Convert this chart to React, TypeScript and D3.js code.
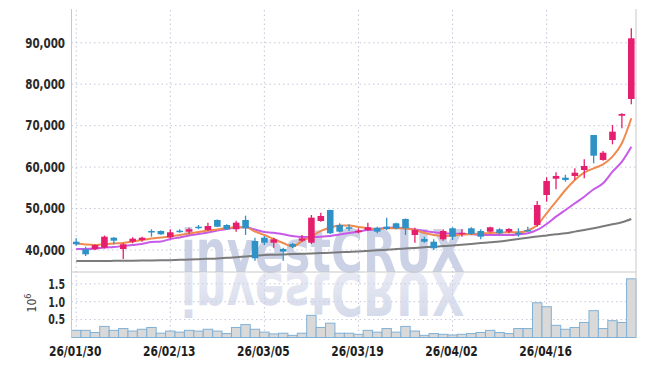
import React from 'react';
import * as d3 from 'd3';

const dates = [
  '26/01/30','26/02/02','26/02/03','26/02/04','26/02/05','26/02/06','26/02/09','26/02/10','26/02/11','26/02/12',
  '26/02/13','26/02/19','26/02/20','26/02/23','26/02/24','26/02/25','26/02/26','26/02/27','26/03/03','26/03/04',
  '26/03/05','26/03/06','26/03/09','26/03/10','26/03/11','26/03/12','26/03/13','26/03/16','26/03/17','26/03/18',
  '26/03/19','26/03/20','26/03/23','26/03/24','26/03/25','26/03/26','26/03/27','26/03/30','26/03/31','26/04/01',
  '26/04/02','26/04/03','26/04/06','26/04/07','26/04/08','26/04/09','26/04/10','26/04/13','26/04/14','26/04/15',
  '26/04/16','26/04/17','26/04/20','26/04/21','26/04/22','26/04/23','26/04/24','26/04/27','26/04/28','26/04/29',
];

const opens = [
  42000,40170,40170,40560,42970,40240,42000,42410,44590,44590,
  43060,44660,44420,45620,44830,47240,46030,45000,47240,42170,
  42970,41760,40240,41450,42250,41760,47000,49650,46030,45480,
  44420,44830,45380,45620,46440,47480,43620,42650,42000,42580,
  45240,43860,45240,44580,44420,45000,44420,44170,44830,46030,
  53270,57200,57450,57860,59300,67750,61720,66540,72400,76440,
];
const highs = [
  42820,40800,41330,43500,43140,41600,43060,43210,45000,44700,
  45000,45000,45380,46030,46590,47360,46200,47070,48280,42970,
  43380,42970,40560,41690,43620,48450,49000,49720,46440,46200,
  45240,46590,45620,47800,46590,47600,45380,43210,42580,45000,
  45480,45000,45480,45000,45620,45240,45240,45240,45620,51820,
  57540,58750,58170,59710,61890,67750,63890,70160,73000,93500,
];
const lows = [
  41040,38550,40000,40360,41380,37830,41620,42000,43210,43700,
  42820,44150,43790,45000,44590,45550,44900,44420,43620,37420,
  41200,40560,37420,40480,42000,41450,46830,43860,44270,44580,
  44030,44580,44030,44830,45000,43620,41760,41760,40000,42250,
  42410,43210,43620,42580,44270,43790,44030,43210,44420,45620,
  51650,54650,56480,56890,57300,60920,61550,65500,69360,75160,
];
const closes = [
  41380,38960,41200,43210,42250,41380,42730,42970,44270,43790,
  44270,44420,45000,45380,45790,45620,45000,46590,45240,38000,
  41760,42580,39600,40800,42820,47800,48200,44030,44420,45240,
  44660,45480,44420,45070,45240,45240,44830,42000,40410,44580,
  43210,44170,43860,43210,45480,44030,45070,44030,44500,50860,
  56650,57860,56890,58650,60270,62750,63480,68550,72820,91080,
];
const volumes = [
  200000,200000,140000,310000,200000,250000,180000,230000,280000,120000,
  180000,150000,200000,180000,230000,180000,110000,280000,360000,230000,
  150000,100000,120000,60000,120000,620000,280000,400000,120000,120000,
  90000,200000,150000,250000,150000,310000,180000,60000,110000,90000,
  70000,90000,110000,140000,200000,140000,110000,250000,250000,970000,
  860000,340000,230000,280000,420000,750000,250000,470000,420000,1640000,
];
const maShort = [
  41570,41330,41200,41450,41570,41690,42050,42410,42770,43020,
  43260,43620,43980,44340,44700,44950,45310,45430,45550,44460,
  43620,42650,41690,40840,42170,43260,44590,45430,45910,45910,
  45550,45310,45070,45240,45240,45190,44830,44100,43620,43380,
  43500,43740,43860,43980,44100,44170,44270,44270,44700,46030,
  48860,51650,54480,56890,58650,59710,60680,62510,65750,71780,
];
const maMid = [
  40240,40240,40360,40600,40720,40970,41200,41450,41930,42050,
  42650,43020,43500,43860,44220,44700,45070,45430,45480,44950,
  44340,44170,43790,43380,43140,43140,43210,43380,43740,44100,
  44460,44830,45000,45380,45430,45240,44950,44590,44270,44030,
  43980,43860,43790,43620,43620,43620,43620,43740,44030,44830,
  46270,48040,49650,51270,52860,54650,56090,58890,61310,64930,
];
const maLong = [
  37350,37350,37350,37350,37380,37400,37420,37450,37470,37500,
  37550,37620,37700,37780,37860,37950,38100,38250,38430,38600,
  38790,38860,38940,39010,39090,39160,39260,39350,39450,39540,
  39640,39780,39930,40070,40220,40360,40500,40650,40800,40940,
  41090,41280,41470,41660,41860,42050,42350,42650,42950,43260,
  43520,43780,44030,44430,44830,45240,45720,46200,46680,47480,
];
const priceTicks = [40000, 50000, 60000, 70000, 80000, 90000];
const volumeTicks = [500000, 1000000, 1500000];
const dateTicks = ['26/01/30', '26/02/13', '26/03/05', '26/03/19', '26/04/02', '26/04/16'];

const W = 645;
const H = 366;
const LEFT = 71.5;
const RIGHT = 636;
const PTOP = 10;
const PBOT = 272;
const VBOT = 337.5;

const UP = '#e51f6e';
const DOWN = '#2f92c7';
const GRID = '#c6c6da';
const FONT = '"DejaVu Sans Condensed", "Liberation Sans Narrow", "Roboto", sans-serif';
const SX = 0.85;

export default function App() {
  const x = d3.scaleBand<string>().domain(dates).range([LEFT, RIGHT]).paddingInner(0).paddingOuter(0);
  const bw = x.bandwidth();
  const cx = (i: number) => (x(dates[i]) as number) + bw / 2;
  const y = d3.scaleLinear().domain([34690, 97910]).range([PBOT, PTOP]);
  const yv = d3.scaleLinear().domain([0, 1830000]).range([VBOT, PBOT]);

  const lineGen = (vals: number[]) =>
    d3.line<number>().x((_, i) => cx(i)).y((v) => y(v)).curve(d3.curveMonotoneX)(vals) || '';

  const bodyW = bw * 0.7;
  const fmt = d3.format(',');

  return (
    <svg width={W} height={H} style={{ position: 'absolute', left: 0, top: 0, background: '#fff' }}>
      <defs>
        <linearGradient id="reflect" x1="0" y1="0" x2="0" y2="1">
          <stop offset="0" stopColor="#ccd2e6" stopOpacity={0.9} />
          <stop offset="1" stopColor="#ccd2e6" stopOpacity={0.35} />
        </linearGradient>
        <clipPath id="plotClip">
          <rect x={LEFT} y={PTOP} width={RIGHT - LEFT} height={PBOT - PTOP} />
        </clipPath>
        <clipPath id="reflClip">
          <rect x={LEFT} y={PBOT + 1} width={RIGHT - LEFT} height={VBOT - PBOT} />
        </clipPath>
      </defs>

      {/* horizontal grid */}
      {priceTicks.map((t) => (
        <line key={'pg' + t} x1={LEFT} x2={RIGHT} y1={y(t)} y2={y(t)} stroke={GRID} strokeWidth={1} strokeDasharray="1.5,3" />
      ))}
      {volumeTicks.map((t) => (
        <line key={'vg' + t} x1={LEFT} x2={RIGHT} y1={yv(t)} y2={yv(t)} stroke={GRID} strokeWidth={1} strokeDasharray="1.5,3" />
      ))}
      {/* vertical grid */}
      {dateTicks.map((d) => (
        <line key={'dg' + d} x1={(x(d) as number) + bw / 2} x2={(x(d) as number) + bw / 2} y1={PTOP} y2={VBOT} stroke={GRID} strokeWidth={1} strokeDasharray="1.5,3" />
      ))}

      {/* watermark */}
      <text x={181} y={PBOT} fontFamily={FONT} fontWeight="bold" fontSize={58} fill="#ccd2e6" textLength={284} lengthAdjust="spacingAndGlyphs">investCRUX</text>
      <g clipPath="url(#reflClip)">
        <g transform={`translate(0,${2 * PBOT + 1}) scale(1,-1)`}>
          <path d="" />
          <text x={181} y={PBOT} fontFamily={FONT} fontWeight="bold" fontSize={58} fill="url(#reflect)" textLength={284} lengthAdjust="spacingAndGlyphs">investCRUX</text>
        </g>
      </g>

      {/* volume bars */}
      {volumes.map((v, i) => (
        <rect key={'v' + i} x={(x(dates[i]) as number)} y={yv(v)} width={bw} height={VBOT - yv(v)} fill="#d9d9d9" stroke="#80b1d6" strokeWidth={1} />
      ))}

      {/* moving averages */}
      <g clipPath="url(#plotClip)">
        <path d={lineGen(maLong)} fill="none" stroke="#7b7b7b" strokeWidth={2} />
        <path d={lineGen(maMid)} fill="none" stroke="#c85ae8" strokeWidth={2} />
        <path d={lineGen(maShort)} fill="none" stroke="#f08a4e" strokeWidth={2} />
      </g>

      {/* candles */}
      {dates.map((d, i) => {
        const o = opens[i], c = closes[i], h = highs[i], l = lows[i];
        const col = c >= o ? UP : DOWN;
        const top = y(Math.max(o, c));
        const bot = y(Math.min(o, c));
        return (
          <g key={'c' + i}>
            <line x1={cx(i)} x2={cx(i)} y1={y(h)} y2={y(l)} stroke={col} strokeWidth={1.3} />
            <rect x={cx(i) - bodyW / 2} y={top} width={bodyW} height={Math.max(bot - top, 1.5)} fill={col} />
          </g>
        );
      })}

      {/* frame */}
      <line x1={LEFT} x2={LEFT} y1={9} y2={VBOT} stroke="#c8c8c8" strokeWidth={1} />
      <line x1={RIGHT} x2={RIGHT} y1={9} y2={VBOT} stroke="#c8c8c8" strokeWidth={1} />
      <line x1={LEFT} x2={RIGHT} y1={PBOT} y2={PBOT} stroke="#c8c8c8" strokeWidth={1} />

      {/* price axis labels */}
      {priceTicks.map((t) => (
        <text key={'pt' + t} transform={`translate(65,${y(t) + 4.8}) scale(${SX},1)`} textAnchor="end" fontFamily={FONT} fontWeight="bold" fontSize={13.5} fill="#2a2a2a">{fmt(t)}</text>
      ))}
      {volumeTicks.map((t) => (
        <text key={'vt' + t} transform={`translate(65,${yv(t) + 4.8}) scale(0.78,1)`} textAnchor="end" fontFamily={FONT} fontWeight="bold" fontSize={13.5} fill="#2a2a2a">{(t / 1e6).toFixed(1)}</text>
      ))}
      <text transform="translate(36,303) rotate(-90)" textAnchor="middle" fontFamily={FONT} fontSize={12} fill="#444">
        10<tspan dy={-5} fontSize={9}>6</tspan>
      </text>

      {/* date labels */}
      {dateTicks.map((d) => (
        <text key={'dt' + d} transform={`translate(${(x(d) as number) + bw / 2 - 1},355.5) scale(${SX},1)`} textAnchor="middle" fontFamily={FONT} fontWeight="bold" fontSize={14} fill="#1e1e1e">{d}</text>
      ))}
    </svg>
  );
}
